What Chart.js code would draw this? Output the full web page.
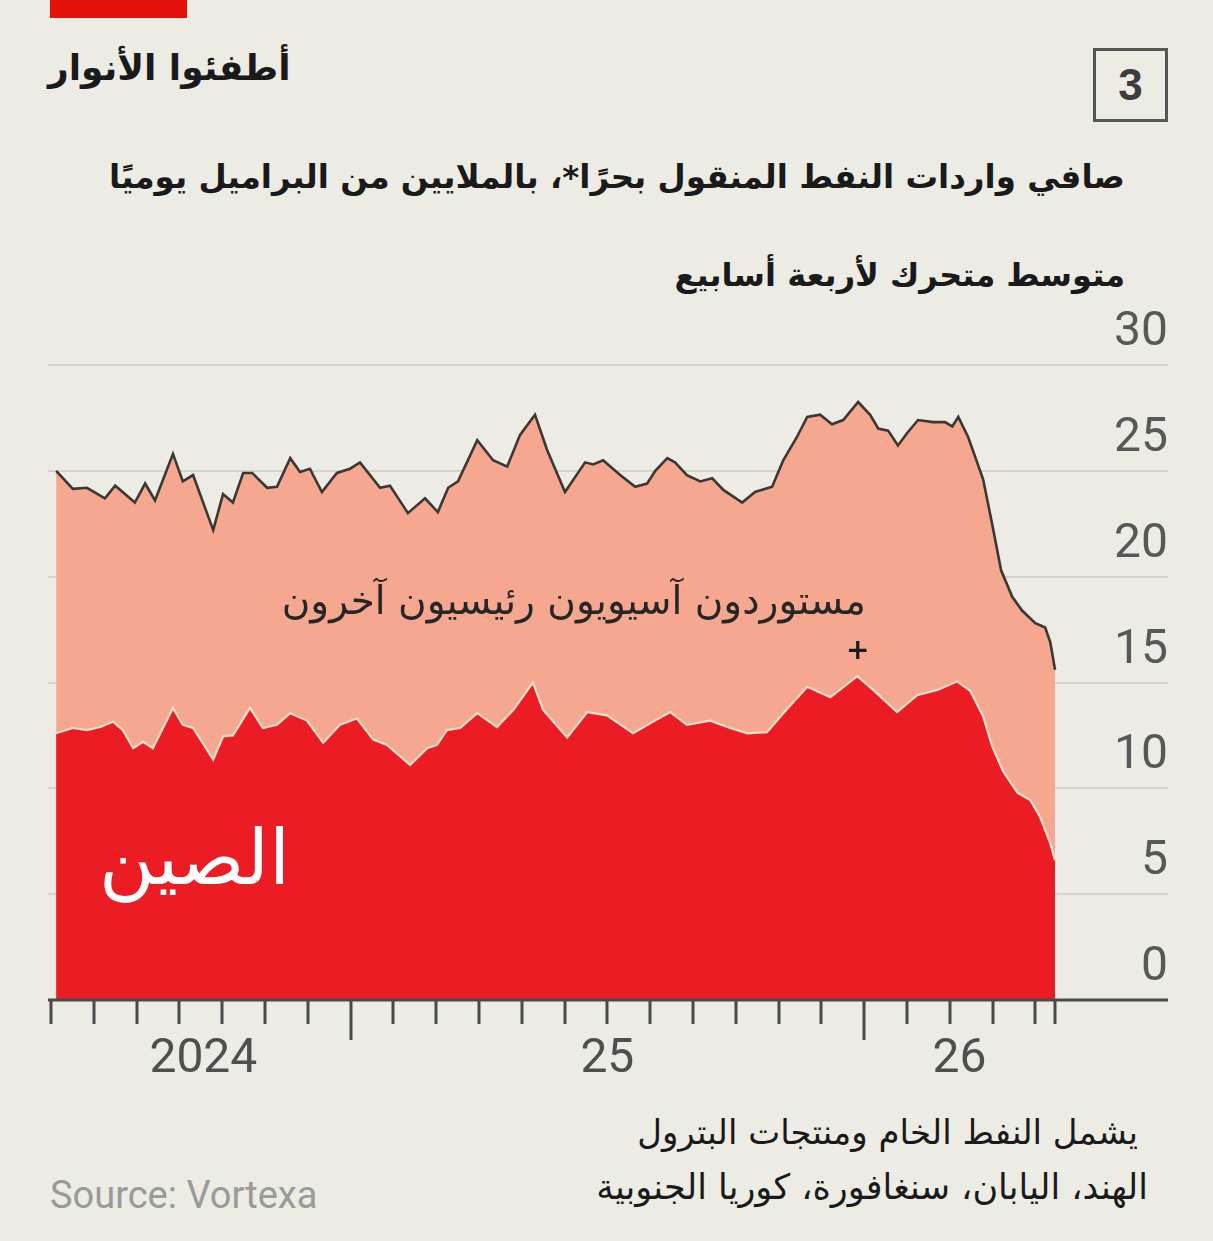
<!DOCTYPE html>
<html lang="ar">
<head>
<meta charset="utf-8">
<script src="https://cdn.jsdelivr.net/npm/chart.js@4.4.1/dist/chart.umd.min.js"></script>
<style>
  html, body { margin: 0; padding: 0; background: #ecece4; }
  #page { position: relative; width: 1213px; height: 1241px; overflow: hidden; background: #ecece4; }
  .t { position: absolute; white-space: nowrap; direction: rtl; font-family: 'DejaVu Sans', sans-serif; color: #1a1a1a; line-height: 1; }
  #redbar { position: absolute; left: 50px; top: 0; width: 137px; height: 18px; background: #e3120b; }
  #num { position: absolute; left: 1093px; top: 48px; width: 69px; height: 68px; border: 3px solid #555; font: bold 44px 'Liberation Sans', Arial, sans-serif; color: #3d3d3d; text-align: center; line-height: 68px; }
  #chart-wrap { position: absolute; left: 0; top: 300px; width: 1213px; height: 800px; }
</style>
</head>
<body>
<div id="page">
  <div id="redbar"></div>
  <div class="t" style="left:48px; top:50px; font-size:36px; font-weight:bold;">أطفئوا الأنوار</div>
  <div id="num">3</div>
  <div class="t" style="right:88px; top:161px; font-size:32.5px; font-weight:bold;">صافي واردات النفط المنقول بحرًا*، بالملايين من البراميل يوميًا</div>
  <div class="t" style="right:88px; top:259px; font-size:32px; font-weight:bold;">متوسط متحرك لأربعة أسابيع</div>

  <div id="chart-wrap"><canvas id="chart"></canvas></div>

  <div class="t" style="right:347px; top:581px; font-size:39px; color:#262626;">مستوردون آسيويون رئيسيون آخرون</div>
  <div class="t" style="left:846px; top:636px; font-size:28px; font-weight:bold; direction:ltr;">+</div>
  <div class="t" style="right:923px; top:820px; font-size:76px; color:#ffffff;">الصين</div>

  <div class="t" style="right:75px; top:1115px; font-size:34px;">يشمل النفط الخام ومنتجات البترول</div>
  <div class="t" style="right:65px; top:1170px; font-size:35px;">الهند، اليابان، سنغافورة، كوريا الجنوبية</div>
  <div class="t" style="left:50px; top:1176px; font-size:38px; direction:ltr; color:#9a9a9a; font-family:'Liberation Sans Narrow', Roboto, sans-serif;">Source: Vortexa</div>
</div>

<script>
// ─── Data ─────────────────────────────────────────────────────────────────────
// x = months since 1 Jan 2024 (12 = Jan 2025, 24 = Jan 2026); y = m barrels/day
const TOTAL_X = [
  5.12, 5.51, 5.84, 6.26, 6.50, 6.96, 7.20, 7.43, 7.85, 8.08,
  8.32, 8.79, 9.02, 9.25, 9.49, 9.70, 10.05, 10.28, 10.59, 10.82,
  11.05, 11.33, 11.68, 11.99, 12.22, 12.69, 12.92, 13.34, 13.74, 14.04,
  14.28, 14.51, 14.96, 15.33, 15.66, 15.96, 16.31, 16.59, 17.01, 17.48,
  17.67, 17.90, 18.30, 18.65, 18.93, 19.12, 19.40, 19.58, 19.86, 20.17,
  20.45, 20.71, 21.15, 21.45, 21.85, 22.11, 22.43, 22.67, 22.97, 23.25,
  23.51, 23.86, 24.14, 24.33, 24.56, 24.79, 25.01, 25.26, 25.61, 25.89,
  26.06, 26.20, 26.43, 26.78, 26.99, 27.20, 27.46, 27.69, 28.00, 28.23,
  28.35, 28.46
];
const TOTAL = [
  25.0, 24.15, 24.2, 23.7, 24.3, 23.5, 24.4, 23.6, 25.8, 24.5,
  24.8, 22.2, 23.9, 23.5, 24.9, 24.9, 24.2, 24.25, 25.6, 24.95,
  25.1, 24.0, 24.9, 25.1, 25.4, 24.2, 24.3, 23.0, 23.7, 23.05,
  24.2, 24.5, 26.45, 25.5, 25.2, 26.7, 27.65, 26.0, 24.0, 25.4,
  25.3, 25.5, 24.8, 24.25, 24.4, 25.0, 25.6, 25.4, 24.8, 24.5,
  24.65, 24.1, 23.5, 24.0, 24.25, 25.5, 26.6, 27.55, 27.65, 27.2,
  27.4, 28.25, 27.65, 27.0, 26.9, 26.2, 26.8, 27.4, 27.3, 27.3,
  27.1, 27.55, 26.6, 24.6, 22.5, 20.3, 19.05, 18.4, 17.8, 17.6,
  16.9, 15.6
];

const CHINA_X = [
  5.12, 5.51, 5.84, 6.15, 6.45, 6.68, 6.92, 7.15, 7.38, 7.85,
  8.08, 8.32, 8.79, 9.02, 9.25, 9.65, 9.95, 10.28, 10.59, 10.98,
  11.36, 11.75, 12.15, 12.53, 12.85, 13.39, 13.79, 14.02, 14.25, 14.56,
  14.96, 15.42, 15.80, 16.26, 16.50, 17.06, 17.53, 17.99, 18.60, 19.07,
  19.47, 19.86, 20.40, 20.87, 21.27, 21.73, 22.11, 22.67, 23.21, 23.84,
  24.21, 24.77, 25.24, 25.71, 26.17, 26.48, 26.78, 26.99, 27.25, 27.58,
  27.88, 28.11, 28.35, 28.46
];
const CHINA = [
  12.6, 12.85, 12.75, 12.9, 13.15, 12.75, 11.9, 12.2, 11.9, 13.8,
  13.0, 12.85, 11.35, 12.45, 12.5, 13.8, 12.85, 13.0, 13.55, 13.2,
  12.15, 13.0, 13.3, 12.3, 12.05, 11.1, 11.9, 12.05, 12.75, 12.85,
  13.55, 12.9, 13.7, 15.0, 13.7, 12.4, 13.6, 13.45, 12.6, 13.15,
  13.6, 13.0, 13.2, 12.85, 12.6, 12.65, 13.55, 14.8, 14.3, 15.3,
  14.65, 13.6, 14.4, 14.65, 15.05, 14.6, 13.4, 12.0, 10.8, 9.8,
  9.45, 8.65, 7.4, 6.6
];

const Y_TICKS      = [0, 5, 10, 15, 20, 25, 30];
const YEAR_LABELS  = ['2024', '25', '26'];
const YEAR_STARTS  = [0, 12, 24];      // month index of 1 January
const FIRST_MONTH  = 5;                // June 2024
const LAST_MONTH   = 28;               // May 2026

// ─── Colours ──────────────────────────────────────────────────────────────────
const COR_CHINA  = '#ec1c24';
const COR_OUTROS = '#f5a88f';
const COR_LINHA  = '#3a3834';
const COR_EIXO   = '#4b4b4b';

// ─── Bottom axis: baseline, month ticks, year labels ─────────────────────────
const eixoInferior = {
  id: 'eixoInferior',
  afterDraw(chart) {
    const { ctx, chartArea, scales: { x, y } } = chart;
    const y0 = y.getPixelForValue(0);
    ctx.save();
    ctx.strokeStyle = COR_EIXO;
    ctx.lineWidth = 3;
    ctx.beginPath();
    ctx.moveTo(chartArea.left, y0);
    ctx.lineTo(chartArea.right, y0);
    ctx.stroke();

    const ticks = [];
    for (let m = FIRST_MONTH; m <= LAST_MONTH; m++) ticks.push(m);
    ticks.push(TOTAL_X[TOTAL_X.length - 1]);
    ticks.forEach(m => {
      const px = Math.round(x.getPixelForValue(m));
      const longo = YEAR_STARTS.includes(m) && m > 0;
      ctx.beginPath();
      ctx.moveTo(px, y0);
      ctx.lineTo(px, y0 + (longo ? 40 : 24));
      ctx.stroke();
    });

    const ini = TOTAL_X[0], fim = TOTAL_X[TOTAL_X.length - 1];
    ctx.fillStyle = '#4f4f4f';
    ctx.font = '48px Roboto, sans-serif';
    ctx.textAlign = 'center';
    ctx.textBaseline = 'middle';
    YEAR_LABELS.forEach((lab, i) => {
      const a = Math.max(ini, YEAR_STARTS[i]);
      const b = Math.min(fim, YEAR_STARTS[i] + 12);
      ctx.fillText(lab, x.getPixelForValue((a + b) / 2), y0 + 60);
    });
    ctx.restore();
  }
};

// ─── Chart ────────────────────────────────────────────────────────────────────
const pontos = (xs, ys) => xs.map((v, i) => ({ x: v, y: ys[i] }));

new Chart(document.getElementById('chart'), {
  type: 'line',
  data: {
    datasets: [
      { label: 'الصين', data: pontos(CHINA_X, CHINA),
        borderColor: '#fbe0cc', borderWidth: 2.2, backgroundColor: COR_CHINA,
        fill: 'origin', pointRadius: 0, tension: 0 },
      { label: 'مستوردون آسيويون رئيسيون آخرون', data: pontos(TOTAL_X, TOTAL),
        borderColor: COR_LINHA, borderWidth: 2.6, backgroundColor: COR_OUTROS,
        fill: 'origin', pointRadius: 0, tension: 0 },
    ],
  },
  options: {
    responsive: true,
    maintainAspectRatio: false,
    animation: false,
    layout: { padding: { top: 65, bottom: 100, left: 48, right: 45 } },
    plugins: { legend: { display: false }, tooltip: { enabled: false } },
    scales: {
      x: { type: 'linear', min: 4.93, max: 31.1, display: false },
      y: {
        position: 'right', min: 0, max: 30,
        afterFit: s => { s.width = 0; },
        afterBuildTicks: s => { s.ticks = Y_TICKS.map(v => ({ value: v })); },
        border: { display: false },
        grid: { drawTicks: false, color: '#d4d4cc', lineWidth: 2 },
        ticks: { mirror: true, padding: 0, labelOffset: -32,
                 color: '#585858', font: { family: 'Roboto', size: 48 } },
      },
    },
  },
  plugins: [eixoInferior],
});
</script>
</body>
</html>
